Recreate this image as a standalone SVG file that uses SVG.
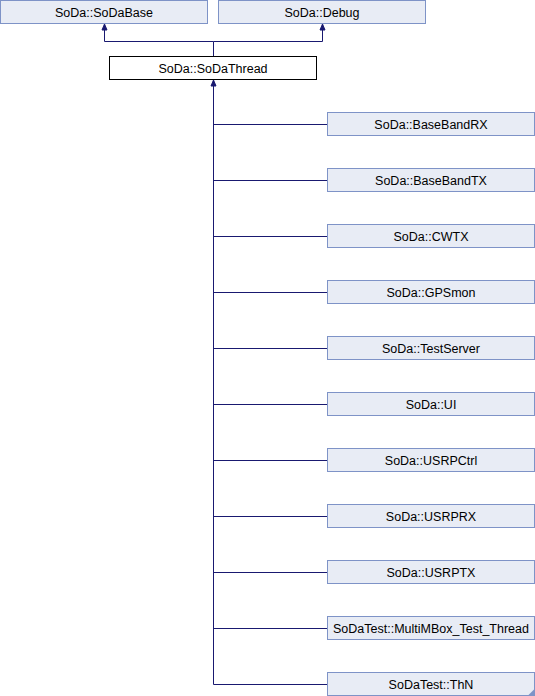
<svg xmlns="http://www.w3.org/2000/svg" width="535" height="696" viewBox="0 0 535 696">
<style>
.n{fill:#e8ecf5;stroke:#7e93c7;stroke-width:1}
.w{fill:#ffffff;stroke:#000000;stroke-width:1}
text{font-family:"Liberation Sans",Arial,sans-serif;font-size:12.5px;fill:#000;text-anchor:middle}
.e{fill:none;stroke:#191970;stroke-width:1}
.a{fill:#191970;stroke:#191970}
</style>
<rect width="535" height="696" fill="#ffffff"/>
<g id="edges">
<polyline class="e" points="213.5,56 213.5,41.5 104.5,41.5 104.5,30"/>
<polyline class="e" points="213.5,41.5 322.5,41.5 322.5,30"/>
<polygon class="a" points="104.5,24 102,30 107,30"/>
<polygon class="a" points="322.5,24 320,30 325,30"/>
<line class="e" x1="213.5" y1="86" x2="213.5" y2="684.5"/>
<polygon class="a" points="213.5,80 211,86 216,86"/>
<path class="e" d="M213.5,124.5H327M213.5,180.5H327M213.5,236.5H327M213.5,292.5H327M213.5,348.5H327M213.5,404.5H327M213.5,460.5H327M213.5,516.5H327M213.5,572.5H327M213.5,628.5H327M213.5,684.5H327"/>
</g>
<g id="n_base"><rect class="n" x="0.5" y="0.5" width="207" height="23"/><text x="104" y="16.5">SoDa::SoDaBase</text></g>
<g id="n_debug"><rect class="n" x="218.5" y="0.5" width="207" height="23"/><text x="322" y="16.5">SoDa::Debug</text></g>
<g id="n_thread"><rect class="w" x="109.5" y="56.5" width="207" height="23"/><text x="213" y="72.5">SoDa::SoDaThread</text></g>
<g id="n_bbrx"><rect class="n" x="327.5" y="112.5" width="207" height="23"/><text x="431" y="128.5">SoDa::BaseBandRX</text></g>
<g id="n_bbtx"><rect class="n" x="327.5" y="168.5" width="207" height="23"/><text x="431" y="184.5">SoDa::BaseBandTX</text></g>
<g id="n_cwtx"><rect class="n" x="327.5" y="224.5" width="207" height="23"/><text x="431" y="240.5">SoDa::CWTX</text></g>
<g id="n_gps"><rect class="n" x="327.5" y="280.5" width="207" height="23"/><text x="431" y="296.5">SoDa::GPSmon</text></g>
<g id="n_ts"><rect class="n" x="327.5" y="336.5" width="207" height="23"/><text x="431" y="352.5">SoDa::TestServer</text></g>
<g id="n_ui"><rect class="n" x="327.5" y="392.5" width="207" height="23"/><text x="431" y="408.5">SoDa::UI</text></g>
<g id="n_ctrl"><rect class="n" x="327.5" y="448.5" width="207" height="23"/><text x="431" y="464.5">SoDa::USRPCtrl</text></g>
<g id="n_rx"><rect class="n" x="327.5" y="504.5" width="207" height="23"/><text x="431" y="520.5">SoDa::USRPRX</text></g>
<g id="n_tx"><rect class="n" x="327.5" y="560.5" width="207" height="23"/><text x="431" y="576.5">SoDa::USRPTX</text></g>
<g id="n_mm"><rect class="n" x="327.5" y="616.5" width="207" height="23"/><text x="431" y="632.5">SoDaTest::MultiMBox_Test_Thread</text></g>
<g id="n_thn"><rect class="n" x="327.5" y="672.5" width="207" height="23"/><text x="431" y="688.5">SoDaTest::ThN</text><polygon points="534.5,689 534.5,695.5 528,695.5" fill="#7e93c7"/></g>
</svg>
